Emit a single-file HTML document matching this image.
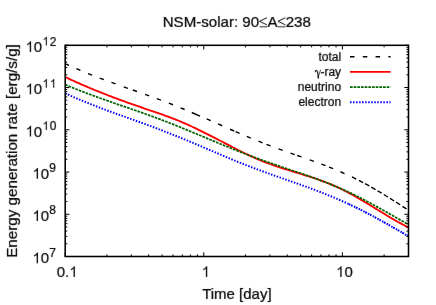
<!DOCTYPE html>
<html>
<head>
<meta charset="utf-8">
<title>NSM-solar: 90&le;A&le;238</title>
<style>
html,body{margin:0;padding:0;background:#fff;}
body{width:436px;height:305px;overflow:hidden;}
svg{display:block;will-change:transform;}
text{font-family:"Liberation Sans",sans-serif;fill:#000;stroke:#000;stroke-width:0.22;}
.frame{fill:none;stroke:#000;stroke-width:1.55;}
.ticks{fill:none;stroke:#000;stroke-width:1;}
.k-total{fill:none;stroke:#000;stroke-width:1.4;stroke-dasharray:4.5 8.3;}
.l-total-d{fill:none;stroke:#000;stroke-width:1.4;}
.l-red{fill:none;stroke:#ff0000;stroke-width:1.85;}
.l-green{fill:none;stroke:#006400;stroke-width:1.75;stroke-dasharray:2.65 1.02;}
.l-blue{fill:none;stroke:#0000ff;stroke-width:1.95;stroke-dasharray:1.5 1.53;}
.l-blue2{fill:none;stroke:#0000ff;stroke-width:2.0;stroke-dasharray:1.5 0.8 1.7 1.4 1.3 0.7 2.0 1.2;}
</style>
</head>
<body>
<svg width="436" height="305" viewBox="0 0 436 305">
<defs><filter id="soft" x="0" y="0" width="436" height="305" filterUnits="userSpaceOnUse"><feConvolveMatrix order="3" kernelMatrix="0.005 0.045 0.005 0.045 0.8 0.045 0.005 0.045 0.005" divisor="1" edgeMode="duplicate" preserveAlpha="false"/></filter></defs>
<rect x="0" y="0" width="436" height="305" fill="#ffffff"/>
<g filter="url(#soft)">
<text transform="translate(236.8,27.25) scale(1,1.028)" font-size="15.1" text-anchor="middle">NSM-solar: 90<tspan fill="none" stroke="none">&#8804;</tspan>A<tspan fill="none" stroke="none">&#8804;</tspan>238</text>
<g fill="none" stroke="#000" stroke-width="0.95" stroke-linejoin="miter">
<path d="M266.9,17.75L259.5,21.3L266.9,24.85"/><path d="M259.5,26.8H267" stroke-width="0.85"/>
<path d="M285.4,17.75L278.0,21.3L285.4,24.85"/><path d="M278.0,26.8H285.5" stroke-width="0.85"/>
</g>
<text transform="translate(17.0,151.0) rotate(-90)" font-size="15.2" text-anchor="middle">Energy generation rate [erg/s/g]</text>
<text transform="translate(236.9,299.2) scale(1,1.028)" font-size="15.0" text-anchor="middle">Time [day]</text>
<path d="M763,0H583V-1147Q518,-1085 412.5,-1023T223,-930V-1104Q375,-1175.5 488.5,-1277T650,-1474H763Z" transform="translate(32.40,263.30) scale(0.007324)"/><text transform="translate(40.74,263.30) scale(1,1.028)" font-size="15.0">0</text><text transform="translate(49.28,256.70) scale(1,1.028)" font-size="12.0">7</text>
<path d="M763,0H583V-1147Q518,-1085 412.5,-1023T223,-930V-1104Q375,-1175.5 488.5,-1277T650,-1474H763Z" transform="translate(32.40,221.06) scale(0.007324)"/><text transform="translate(40.74,221.06) scale(1,1.028)" font-size="15.0">0</text><text transform="translate(49.28,214.46) scale(1,1.028)" font-size="12.0">8</text>
<path d="M763,0H583V-1147Q518,-1085 412.5,-1023T223,-930V-1104Q375,-1175.5 488.5,-1277T650,-1474H763Z" transform="translate(32.40,178.82) scale(0.007324)"/><text transform="translate(40.74,178.82) scale(1,1.028)" font-size="15.0">0</text><text transform="translate(49.28,172.22) scale(1,1.028)" font-size="12.0">9</text>
<path d="M763,0H583V-1147Q518,-1085 412.5,-1023T223,-930V-1104Q375,-1175.5 488.5,-1277T650,-1474H763Z" transform="translate(25.50,136.58) scale(0.007324)"/><text transform="translate(33.84,136.58) scale(1,1.028)" font-size="15.0">0</text><path d="M763,0H583V-1147Q518,-1085 412.5,-1023T223,-930V-1104Q375,-1175.5 488.5,-1277T650,-1474H763Z" transform="translate(42.38,129.98) scale(0.005859)"/><text transform="translate(49.76,129.98) scale(1,1.028)" font-size="12.0">0</text>
<path d="M763,0H583V-1147Q518,-1085 412.5,-1023T223,-930V-1104Q375,-1175.5 488.5,-1277T650,-1474H763Z" transform="translate(25.50,94.34) scale(0.007324)"/><text transform="translate(33.84,94.34) scale(1,1.028)" font-size="15.0">0</text><path d="M763,0H583V-1147Q518,-1085 412.5,-1023T223,-930V-1104Q375,-1175.5 488.5,-1277T650,-1474H763Z" transform="translate(42.38,87.74) scale(0.005859)"/><path d="M763,0H583V-1147Q518,-1085 412.5,-1023T223,-930V-1104Q375,-1175.5 488.5,-1277T650,-1474H763Z" transform="translate(49.76,87.74) scale(0.005859)"/>
<path d="M763,0H583V-1147Q518,-1085 412.5,-1023T223,-930V-1104Q375,-1175.5 488.5,-1277T650,-1474H763Z" transform="translate(25.50,52.10) scale(0.007324)"/><text transform="translate(33.84,52.10) scale(1,1.028)" font-size="15.0">0</text><path d="M763,0H583V-1147Q518,-1085 412.5,-1023T223,-930V-1104Q375,-1175.5 488.5,-1277T650,-1474H763Z" transform="translate(42.38,45.50) scale(0.005859)"/><text transform="translate(49.76,45.50) scale(1,1.028)" font-size="12.0">2</text>
<text transform="translate(56.77,277.00) scale(1,1.028)" font-size="15.0">0.</text><path d="M763,0H583V-1147Q518,-1085 412.5,-1023T223,-930V-1104Q375,-1175.5 488.5,-1277T650,-1474H763Z" transform="translate(69.28,277.00) scale(0.007324)"/>
<path d="M763,0H583V-1147Q518,-1085 412.5,-1023T223,-930V-1104Q375,-1175.5 488.5,-1277T650,-1474H763Z" transform="translate(201.62,277.00) scale(0.007324)"/>
<path d="M763,0H583V-1147Q518,-1085 412.5,-1023T223,-930V-1104Q375,-1175.5 488.5,-1277T650,-1474H763Z" transform="translate(336.03,277.00) scale(0.007324)"/><text transform="translate(344.38,277.00) scale(1,1.028)" font-size="15.0">0</text>
<text x="341.1" y="60.75" font-size="12.0" stroke-width="0.06" text-anchor="end">total</text>
<text x="341.1" y="75.88" font-size="12.0" stroke-width="0.06" text-anchor="end">-ray</text>
<g transform="translate(0,-0.00)" fill="none" stroke="#000" stroke-linecap="round"><path d="M315.25,71.7C315.5,70.4 316.5,69.8 317.05,70.9C317.65,72.3 318.0,74.0 318.3,75.8" stroke-width="1.1"/><path d="M320.55,70.0L318.55,75.7" stroke-width="0.75"/><path d="M318.3,75.7L318.25,78.1" stroke-width="1.4"/></g>
<text x="341.1" y="91.01" font-size="12.0" stroke-width="0.06" text-anchor="end">neutrino</text>
<text x="341.1" y="106.14" font-size="12.0" stroke-width="0.06" text-anchor="end">electron</text>
</g>
<clipPath id="plot"><rect x="65.2" y="45.3" width="343.3" height="211.2"/></clipPath>
<g clip-path="url(#plot)">
<path class="l-total-d" d="M65.00,63.61L69.00,65.46M76.38,68.72L80.42,70.45M88.05,73.58L92.15,75.20M99.74,78.12L103.86,79.67M111.43,82.44L115.57,83.93M123.72,86.82L127.88,88.29M132.82,90.02L136.98,91.48M145.03,94.33L149.17,95.81M156.84,98.60L160.96,100.13M168.85,103.13L172.95,104.74M180.57,107.81L184.63,109.49M191.77,112.50L200.03,116.06M206.69,118.96L210.71,120.72M218.09,123.97L222.11,125.74M230.08,129.24L234.12,130.99M235.58,131.63L239.62,133.37M246.77,136.41L250.83,138.10M258.46,141.22L262.54,142.85M266.44,144.37L270.56,145.93M278.53,148.88L282.67,150.36M290.52,153.14L294.68,154.59M297.32,155.51L301.48,156.96M309.73,159.87L313.87,161.36M321.44,164.14L325.56,165.70M329.06,167.06L333.14,168.69M340.48,171.75L344.52,173.52M351.94,176.94L356.26,179.04M358.87,180.36L363.13,182.58M365.10,183.64L369.30,185.96M371.32,187.11L375.48,189.52M377.54,190.74L381.66,193.21M383.76,194.49L387.84,197.01M390.07,198.41L394.13,200.97M396.08,202.20L400.12,204.78M402.48,206.29L406.52,208.89"/>
<polyline class="l-red" points="65.2,77.01 66.7,77.72 68.2,78.43 69.7,79.13 71.2,79.82 72.7,80.51 74.2,81.19 75.7,81.87 77.2,82.54 78.7,83.21 80.2,83.87 81.7,84.53 83.2,85.18 84.7,85.83 86.2,86.47 87.7,87.11 89.2,87.74 90.7,88.37 92.2,88.99 93.7,89.61 95.2,90.23 96.7,90.84 98.2,91.44 99.7,92.05 101.2,92.64 102.7,93.24 104.2,93.83 105.7,94.42 107.2,95.00 108.7,95.58 110.2,96.15 111.7,96.72 113.2,97.29 114.7,97.86 116.2,98.42 117.7,98.98 119.2,99.53 120.7,100.08 122.2,100.63 123.7,101.17 125.2,101.72 126.7,102.26 128.2,102.79 129.7,103.33 131.2,103.86 132.7,104.39 134.2,104.91 135.7,105.43 137.2,105.95 138.7,106.47 140.2,106.99 141.7,107.50 143.2,108.01 144.7,108.53 146.2,109.03 147.7,109.54 149.2,110.05 150.7,110.56 152.2,111.07 153.7,111.59 155.2,112.10 156.7,112.62 158.2,113.14 159.7,113.66 161.2,114.19 162.7,114.72 164.2,115.26 165.7,115.80 167.2,116.35 168.7,116.91 170.2,117.47 171.7,118.04 173.2,118.62 174.7,119.20 176.2,119.80 177.7,120.40 179.2,121.02 180.7,121.64 182.2,122.28 183.7,122.92 185.2,123.58 186.7,124.24 188.2,124.91 189.7,125.59 191.2,126.28 192.7,126.98 194.2,127.69 195.7,128.40 197.2,129.12 198.7,129.85 200.2,130.58 201.7,131.32 203.2,132.06 204.7,132.81 206.2,133.56 207.7,134.32 209.2,135.08 210.7,135.84 212.2,136.61 213.7,137.38 215.2,138.15 216.7,138.93 218.2,139.70 219.7,140.48 221.2,141.26 222.7,142.04 224.2,142.82 225.7,143.60 227.2,144.37 228.7,145.15 230.2,145.93 231.7,146.70 233.2,147.48 234.7,148.24 236.2,149.01 237.7,149.77 239.2,150.53 240.7,151.28 242.2,152.02 243.7,152.76 245.2,153.49 246.7,154.21 248.2,154.93 249.7,155.63 251.2,156.32 252.7,157.01 254.2,157.68 255.7,158.34 257.2,158.98 258.7,159.62 260.2,160.24 261.7,160.84 263.2,161.44 264.7,162.02 266.2,162.59 267.7,163.16 269.2,163.71 270.7,164.25 272.2,164.78 273.7,165.31 275.2,165.82 276.7,166.33 278.2,166.84 279.7,167.33 281.2,167.82 282.7,168.31 284.2,168.79 285.7,169.26 287.2,169.73 288.7,170.20 290.2,170.67 291.7,171.13 293.2,171.59 294.7,172.05 296.2,172.51 297.7,172.97 299.2,173.43 300.7,173.89 302.2,174.36 303.7,174.82 305.2,175.29 306.7,175.76 308.2,176.24 309.7,176.72 311.2,177.21 312.7,177.70 314.2,178.20 315.7,178.71 317.2,179.22 318.7,179.75 320.2,180.28 321.7,180.82 323.2,181.37 324.7,181.93 326.2,182.51 327.7,183.09 329.2,183.69 330.7,184.30 332.2,184.92 333.7,185.56 335.2,186.22 336.7,186.88 338.2,187.57 339.7,188.27 341.2,188.99 342.7,189.72 344.2,190.47 345.7,191.24 347.2,192.02 348.7,192.81 350.2,193.62 351.7,194.44 353.2,195.27 354.7,196.12 356.2,196.97 357.7,197.83 359.2,198.70 360.7,199.58 362.2,200.46 363.7,201.36 365.2,202.25 366.7,203.16 368.2,204.07 369.7,204.98 371.2,205.89 372.7,206.81 374.2,207.73 375.7,208.64 377.2,209.56 378.7,210.48 380.2,211.40 381.7,212.31 383.2,213.23 384.7,214.13 386.2,215.04 387.7,215.94 389.2,216.83 390.7,217.72 392.2,218.60 393.7,219.47 395.2,220.33 396.7,221.18 398.2,222.03 399.7,222.86 401.2,223.68 402.7,224.49 404.2,225.29 405.7,226.07 407.2,226.84 408.5,227.49"/>
<polyline class="l-green" points="65.2,84.56 66.7,85.20 68.2,85.84 69.7,86.47 71.2,87.10 72.7,87.72 74.2,88.33 75.7,88.94 77.2,89.54 78.7,90.14 80.2,90.73 81.7,91.31 83.2,91.89 84.7,92.47 86.2,93.04 87.7,93.61 89.2,94.17 90.7,94.73 92.2,95.28 93.7,95.83 95.2,96.38 96.7,96.92 98.2,97.47 99.7,98.00 101.2,98.54 102.7,99.07 104.2,99.60 105.7,100.13 107.2,100.66 108.7,101.18 110.2,101.70 111.7,102.23 113.2,102.75 114.7,103.26 116.2,103.78 117.7,104.30 119.2,104.82 120.7,105.34 122.2,105.85 123.7,106.37 125.2,106.89 126.7,107.41 128.2,107.92 129.7,108.44 131.2,108.96 132.7,109.48 134.2,110.00 135.7,110.53 137.2,111.05 138.7,111.58 140.2,112.11 141.7,112.63 143.2,113.17 144.7,113.70 146.2,114.24 147.7,114.77 149.2,115.31 150.7,115.86 152.2,116.40 153.7,116.95 155.2,117.51 156.7,118.06 158.2,118.62 159.7,119.18 161.2,119.75 162.7,120.32 164.2,120.89 165.7,121.47 167.2,122.05 168.7,122.64 170.2,123.23 171.7,123.82 173.2,124.41 174.7,125.01 176.2,125.61 177.7,126.21 179.2,126.81 180.7,127.42 182.2,128.03 183.7,128.64 185.2,129.25 186.7,129.87 188.2,130.49 189.7,131.10 191.2,131.72 192.7,132.34 194.2,132.97 195.7,133.59 197.2,134.21 198.7,134.84 200.2,135.46 201.7,136.09 203.2,136.72 204.7,137.34 206.2,137.97 207.7,138.59 209.2,139.22 210.7,139.85 212.2,140.47 213.7,141.10 215.2,141.72 216.7,142.34 218.2,142.97 219.7,143.59 221.2,144.21 222.7,144.82 224.2,145.44 225.7,146.06 227.2,146.67 228.7,147.28 230.2,147.89 231.7,148.50 233.2,149.10 234.7,149.71 236.2,150.31 237.7,150.91 239.2,151.50 240.7,152.09 242.2,152.68 243.7,153.27 245.2,153.85 246.7,154.43 248.2,155.00 249.7,155.57 251.2,156.14 252.7,156.70 254.2,157.26 255.7,157.82 257.2,158.37 258.7,158.91 260.2,159.46 261.7,159.99 263.2,160.53 264.7,161.06 266.2,161.58 267.7,162.11 269.2,162.63 270.7,163.14 272.2,163.66 273.7,164.17 275.2,164.68 276.7,165.19 278.2,165.70 279.7,166.21 281.2,166.71 282.7,167.22 284.2,167.72 285.7,168.22 287.2,168.73 288.7,169.23 290.2,169.73 291.7,170.24 293.2,170.74 294.7,171.25 296.2,171.76 297.7,172.27 299.2,172.78 300.7,173.29 302.2,173.81 303.7,174.32 305.2,174.85 306.7,175.37 308.2,175.90 309.7,176.43 311.2,176.96 312.7,177.50 314.2,178.04 315.7,178.59 317.2,179.14 318.7,179.69 320.2,180.25 321.7,180.82 323.2,181.39 324.7,181.97 326.2,182.55 327.7,183.14 329.2,183.74 330.7,184.34 332.2,184.95 333.7,185.57 335.2,186.19 336.7,186.83 338.2,187.47 339.7,188.11 341.2,188.77 342.7,189.44 344.2,190.11 345.7,190.80 347.2,191.49 348.7,192.19 350.2,192.90 351.7,193.62 353.2,194.35 354.7,195.08 356.2,195.82 357.7,196.57 359.2,197.33 360.7,198.09 362.2,198.87 363.7,199.64 365.2,200.43 366.7,201.22 368.2,202.01 369.7,202.81 371.2,203.62 372.7,204.43 374.2,205.25 375.7,206.07 377.2,206.89 378.7,207.72 380.2,208.56 381.7,209.39 383.2,210.23 384.7,211.08 386.2,211.92 387.7,212.77 389.2,213.62 390.7,214.48 392.2,215.33 393.7,216.19 395.2,217.05 396.7,217.91 398.2,218.77 399.7,219.63 401.2,220.49 402.7,221.35 404.2,222.22 405.7,223.08 407.2,223.94 408.5,224.69"/>
<polyline class="l-blue" points="65.2,93.29 66.7,93.99 68.2,94.68 69.7,95.36 71.2,96.03 72.7,96.69 74.2,97.35 75.7,98.00 77.2,98.64 78.7,99.28 80.2,99.91 81.7,100.54 83.2,101.16 84.7,101.77 86.2,102.38 87.7,102.99 89.2,103.58 90.7,104.18 92.2,104.77 93.7,105.35 95.2,105.93 96.7,106.51 98.2,107.08 99.7,107.65 101.2,108.21 102.7,108.77 104.2,109.33 105.7,109.88 107.2,110.44 108.7,110.99 110.2,111.54 111.7,112.08 113.2,112.62 114.7,113.17 116.2,113.71 117.7,114.25 119.2,114.78 120.7,115.32 122.2,115.86 123.7,116.39 125.2,116.93 126.7,117.46 128.2,118.00 129.7,118.53 131.2,119.07 132.7,119.60 134.2,120.14 135.7,120.68 137.2,121.22 138.7,121.76 140.2,122.30 141.7,122.84 143.2,123.39 144.7,123.94 146.2,124.49 147.7,125.04 149.2,125.60 150.7,126.16 152.2,126.72 153.7,127.28 155.2,127.85 156.7,128.41 158.2,128.99 159.7,129.56 161.2,130.14 162.7,130.71 164.2,131.30 165.7,131.88 167.2,132.47 168.7,133.05 170.2,133.64 171.7,134.24 173.2,134.83 174.7,135.43 176.2,136.03 177.7,136.63 179.2,137.24 180.7,137.84 182.2,138.45 183.7,139.06 185.2,139.68 186.7,140.29 188.2,140.91 189.7,141.53 191.2,142.15 192.7,142.77 194.2,143.40 195.7,144.03 197.2,144.66 198.7,145.29 200.2,145.92 201.7,146.56 203.2,147.19 204.7,147.83 206.2,148.47 207.7,149.11 209.2,149.75 210.7,150.40 212.2,151.04 213.7,151.68 215.2,152.32 216.7,152.97 218.2,153.61 219.7,154.25 221.2,154.89 222.7,155.53 224.2,156.17 225.7,156.80 227.2,157.44 228.7,158.07 230.2,158.70 231.7,159.32 233.2,159.95 234.7,160.57 236.2,161.18 237.7,161.80 239.2,162.40 240.7,163.01 242.2,163.61 243.7,164.20 245.2,164.79 246.7,165.38 248.2,165.96 249.7,166.53 251.2,167.10 252.7,167.67 254.2,168.23 255.7,168.79 257.2,169.35 258.7,169.90 260.2,170.45 261.7,171.00 263.2,171.54 264.7,172.08 266.2,172.62 267.7,173.16 269.2,173.69 270.7,174.22 272.2,174.75 273.7,175.28 275.2,175.81 276.7,176.33 278.2,176.86 279.7,177.38 281.2,177.90 282.7,178.42 284.2,178.95 285.7,179.47 287.2,179.99 288.7,180.51 290.2,181.04 291.7,181.56 293.2,182.08 294.7,182.61 296.2,183.14 297.7,183.67 299.2,184.20 300.7,184.74 302.2,185.27 303.7,185.82 305.2,186.36 306.7,186.91 308.2,187.45 309.7,188.01 311.2,188.56 312.7,189.13 314.2,189.69 315.7,190.26 317.2,190.83 318.7,191.41 320.2,191.99 321.7,192.57 323.2,193.16 324.7,193.76 326.2,194.36 327.7,194.96 329.2,195.57 330.7,196.19 332.2,196.81 333.7,197.43 335.2,198.06 336.7,198.70 338.2,199.35 339.7,200.00 341.2,200.65 342.7,201.32 344.2,201.98 345.7,202.66 347.2,203.34 348.7,204.03 349.0,204.17"/>
<polyline class="l-blue2" points="349.0,204.17 350.5,204.87 352.0,205.58 353.5,206.29 355.0,207.01 356.5,207.74 358.0,208.48 359.5,209.22 361.0,209.97 362.5,210.73 364.0,211.49 365.5,212.26 367.0,213.04 368.5,213.82 370.0,214.61 371.5,215.41 373.0,216.21 374.5,217.01 376.0,217.82 377.5,218.64 379.0,219.46 380.5,220.29 382.0,221.12 383.5,221.95 385.0,222.79 386.5,223.63 388.0,224.48 389.5,225.33 391.0,226.18 392.5,227.04 394.0,227.90 395.5,228.76 397.0,229.63 398.5,230.50 400.0,231.37 401.5,232.24 403.0,233.11 404.5,233.99 406.0,234.87 407.5,235.75 408.5,236.34"/>
</g>
<path class="k-total" d="M350.0,56.80H390.6"/>
<path class="l-red" d="M350.0,71.93H390.6"/>
<path class="l-green" d="M350.0,87.06H390.6"/>
<path class="l-blue" d="M350.0,102.19H390.6"/>
<path class="ticks" d="M65.20,256.5v-4.2M65.20,45.3v4.2M106.92,256.5v-2.1M106.92,45.3v2.1M131.32,256.5v-2.1M131.32,45.3v2.1M148.64,256.5v-2.1M148.64,45.3v2.1M162.07,256.5v-2.1M162.07,45.3v2.1M173.04,256.5v-2.1M173.04,45.3v2.1M182.32,256.5v-2.1M182.32,45.3v2.1M190.36,256.5v-2.1M190.36,45.3v2.1M197.45,256.5v-2.1M197.45,45.3v2.1M203.79,256.5v-4.2M203.79,45.3v4.2M245.51,256.5v-2.1M245.51,45.3v2.1M269.91,256.5v-2.1M269.91,45.3v2.1M287.23,256.5v-2.1M287.23,45.3v2.1M300.66,256.5v-2.1M300.66,45.3v2.1M311.63,256.5v-2.1M311.63,45.3v2.1M320.91,256.5v-2.1M320.91,45.3v2.1M328.95,256.5v-2.1M328.95,45.3v2.1M336.04,256.5v-2.1M336.04,45.3v2.1M342.38,256.5v-4.2M342.38,45.3v4.2M384.10,256.5v-2.1M384.10,45.3v2.1M408.50,256.5v-2.1M408.50,45.3v2.1M65.2,256.50h4.2M408.5,256.50h-4.2M65.2,243.78h2.1M408.5,243.78h-2.1M65.2,236.35h2.1M408.5,236.35h-2.1M65.2,231.07h2.1M408.5,231.07h-2.1M65.2,226.98h2.1M408.5,226.98h-2.1M65.2,223.63h2.1M408.5,223.63h-2.1M65.2,220.80h2.1M408.5,220.80h-2.1M65.2,218.35h2.1M408.5,218.35h-2.1M65.2,216.19h2.1M408.5,216.19h-2.1M65.2,214.26h4.2M408.5,214.26h-4.2M65.2,201.54h2.1M408.5,201.54h-2.1M65.2,194.11h2.1M408.5,194.11h-2.1M65.2,188.83h2.1M408.5,188.83h-2.1M65.2,184.74h2.1M408.5,184.74h-2.1M65.2,181.39h2.1M408.5,181.39h-2.1M65.2,178.56h2.1M408.5,178.56h-2.1M65.2,176.11h2.1M408.5,176.11h-2.1M65.2,173.95h2.1M408.5,173.95h-2.1M65.2,172.02h4.2M408.5,172.02h-4.2M65.2,159.30h2.1M408.5,159.30h-2.1M65.2,151.87h2.1M408.5,151.87h-2.1M65.2,146.59h2.1M408.5,146.59h-2.1M65.2,142.50h2.1M408.5,142.50h-2.1M65.2,139.15h2.1M408.5,139.15h-2.1M65.2,136.32h2.1M408.5,136.32h-2.1M65.2,133.87h2.1M408.5,133.87h-2.1M65.2,131.71h2.1M408.5,131.71h-2.1M65.2,129.78h4.2M408.5,129.78h-4.2M65.2,117.06h2.1M408.5,117.06h-2.1M65.2,109.63h2.1M408.5,109.63h-2.1M65.2,104.35h2.1M408.5,104.35h-2.1M65.2,100.26h2.1M408.5,100.26h-2.1M65.2,96.91h2.1M408.5,96.91h-2.1M65.2,94.08h2.1M408.5,94.08h-2.1M65.2,91.63h2.1M408.5,91.63h-2.1M65.2,89.47h2.1M408.5,89.47h-2.1M65.2,87.54h4.2M408.5,87.54h-4.2M65.2,74.82h2.1M408.5,74.82h-2.1M65.2,67.39h2.1M408.5,67.39h-2.1M65.2,62.11h2.1M408.5,62.11h-2.1M65.2,58.02h2.1M408.5,58.02h-2.1M65.2,54.67h2.1M408.5,54.67h-2.1M65.2,51.84h2.1M408.5,51.84h-2.1M65.2,49.39h2.1M408.5,49.39h-2.1M65.2,47.23h2.1M408.5,47.23h-2.1M65.2,45.30h4.2M408.5,45.30h-4.2"/>
<rect class="frame" x="65.2" y="45.3" width="343.3" height="211.2"/>
</svg>
</body>
</html>
